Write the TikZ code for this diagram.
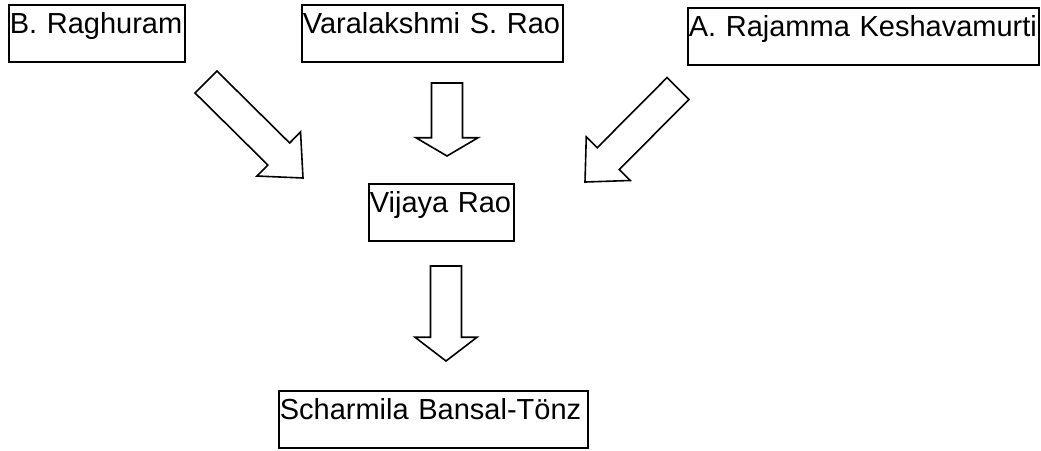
\documentclass[tikz,border=0pt]{standalone}
\usepackage{fontspec}
\setmainfont{Liberation Sans}
\usetikzlibrary{calc}

\tikzset{
  person/.style={draw=black, line width=1.6pt, inner sep=1pt, anchor=north west, align=left,
    text height=28pt, text depth=27pt, font=\fontsize{29}{34}\selectfont},
  hollow/.style={draw=black, fill=white, line width=1.6pt, line join=miter}
}
% hollow block arrow from #1 (tail) to #2 (tip)
\newcommand{\hollowarrow}[2]{%
  \coordinate (hb) at ($(#1)!0.75!(#2)$);
  \draw[hollow] ($(#1)!15.5pt!90:(#2)$) -- ($(hb)!15.5pt!90:(#2)$) -- ($(hb)!31pt!90:(#2)$) -- (#2)
    -- ($(hb)!31pt!-90:(#2)$) -- ($(hb)!15.5pt!-90:(#2)$) -- ($(#1)!15.5pt!-90:(#2)$) -- cycle;}

\begin{document}
\begin{tikzpicture}[x=1pt, y=-1pt]
		\useasboundingbox (0,0) rectangle (1041,450);

		\node (raghuram) [person, text width=174pt] at (8,4) {B. Raghuram};
		\node (varalakshmi) [person, text width=259pt] at (301,4) {Varalakshmi S. Rao};
		\node (rajamma) [person, text width=349pt] at (687,7) {A. Rajamma Keshavamurti};
		\node (vijaya) [person, text width=143pt] at (368,183) {Vijaya Rao};
		\node (scharmila) [person, text width=307pt] at (278,390) {Scharmila Bansal-Tönz};

		\coordinate (a1) at (206,82);   \coordinate (b1) at (303,178);
		\hollowarrow{a1}{b1}
		\coordinate (a2) at (447,83);   \coordinate (b2) at (447,156);
		\hollowarrow{a2}{b2}
		\coordinate (a3) at (678,88.5); \coordinate (b3) at (585,182);
		\hollowarrow{a3}{b3}

		\coordinate (a4) at (446,266);  \coordinate (b4) at (446,361);
		\hollowarrow{a4}{b4}
	\end{tikzpicture}
\end{document}
